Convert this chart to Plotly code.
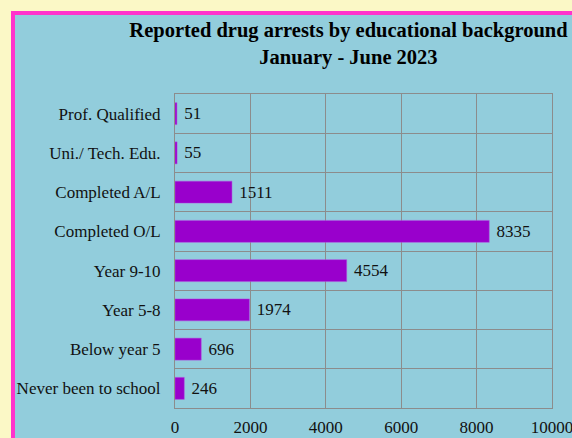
import plotly.graph_objects as go

categories = ["Prof. Qualified", "Uni./ Tech. Edu.", "Completed A/L", "Completed O/L",
              "Year 9-10", "Year 5-8", "Below year 5", "Never been to school"]
arrests = [51, 55, 1511, 8335, 4554, 1974, 696, 246]
x_ticks = [0, 2000, 4000, 6000, 8000, 10000]

# figure is a bit wider than the window so the last tick label is cut like the original
W, H = 600, 438
L, R, T, B = 175, 48, 94, 30
pw, ph = W - L - R, H - T - B

def px_x(p):
    return (p - L) / pw

def px_y(p):
    return (H - B - p) / ph

serif = "Liberation Serif, Times New Roman, serif"
grid = "#8c8c8c"

fig = go.Figure(go.Bar(
    x=arrests, y=categories, orientation="h",
    marker=dict(color="#9900cc", line=dict(color="#b24ce0", width=0.5)),
    width=0.56,
    text=arrests, texttemplate=" %{x}", textposition="outside", cliponaxis=False,
    textfont=dict(family=serif, size=17, color="#111111"),
))

# chart area with pink border
fig.add_shape(type="rect", xref="paper", yref="paper", layer="below",
              x0=px_x(13), x1=px_x(660), y0=px_y(500), y1=px_y(13),
              fillcolor="#92cddc", line=dict(color="#ff33cc", width=4))

fig.update_layout(
    width=W, height=H,
    margin=dict(l=L, r=R, t=T, b=B, autoexpand=False),
    paper_bgcolor="#fbf8c6", plot_bgcolor="#92cddc",
    font=dict(family=serif, size=17, color="#111111"),
    title=dict(text="<b>Reported drug arrests by educational background<br>January - June 2023</b>",
               font=dict(family=serif, size=20.5, color="#000000"),
               x=348.5 / W, xanchor="center", xref="container",
               y=1 - 37 / H, yanchor="top", yref="container"),
    showlegend=False,
    xaxis=dict(range=[0, 10000], tickvals=x_ticks, tickformat="d", showgrid=True,
               gridcolor=grid, gridwidth=1, automargin=False,
               showline=True, linecolor=grid, mirror=True, zeroline=False,
               ticks="", ticklabelstandoff=4, tickfont=dict(family=serif, size=17)),
    yaxis=dict(categoryorder="array", categoryarray=categories, autorange="reversed",
               tickson="boundaries", showgrid=True, gridcolor=grid, gridwidth=1,
               showline=True, linecolor=grid, mirror=True, automargin=False,
               ticks="", ticklabelstandoff=10, tickfont=dict(family=serif, size=17)),
)

# drop the page margin so the figure sits at the window's corner
fig.write_html("out.html", config={"displayModeBar": False},
               post_script="document.body.style.margin='0';document.body.style.overflow='hidden';")
